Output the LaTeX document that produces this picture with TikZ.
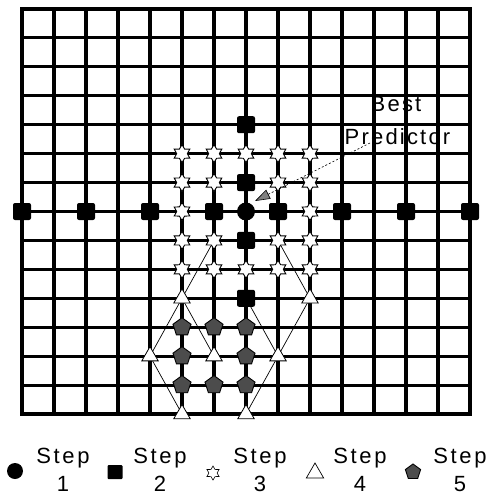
\documentclass[tikz,border=0pt]{standalone}
\usepackage{fontspec}
\setmainfont{Liberation Sans}
\newfontfamily\lblfont[LetterSpace=10]{Liberation Sans}
\newfontfamily\legfont[LetterSpace=12]{Liberation Sans}
\usetikzlibrary{shapes.geometric,arrows.meta}
\pgfdeclarelayer{gridlayer}
\pgfdeclarelayer{connlayer}
\pgfsetlayers{gridlayer,connlayer,main}
\tikzset{
  mcirc/.style={circle,fill=black,inner sep=0pt,minimum size=18pt},
  msq/.style={rectangle,rounded corners=2pt,fill=black,inner sep=0pt,minimum width=18pt,minimum height=17pt},
  mstar/.style={star,star points=6,star point ratio=1.7,draw=black,fill=white,line width=0.9pt,inner sep=0pt,minimum size=18pt},
  mtri/.style={regular polygon,regular polygon sides=3,draw=black,fill=white,line width=0.8pt,inner sep=0pt,minimum size=19pt},
  mpent/.style={regular polygon,regular polygon sides=5,draw=black,fill=black!70,line width=0.9pt,inner sep=0pt,minimum size=19pt},
  gridline/.style={line width=3.1pt,black,line cap=rect},
  conn/.style={line width=0.7pt,black},
  lbl/.style={font=\fontsize{22}{22}\lblfont,inner sep=0pt},
  leg/.style={font=\fontsize{22}{22}\legfont,inner sep=0pt},
}
\begin{document}
\begin{tikzpicture}[x=1pt,y=-1pt]
\useasboundingbox (0,0) rectangle (492,495);
\begin{scope}[shift={(22pt,-9pt)},x=32pt,y=-28.9286pt]
  \begin{pgfonlayer}{gridlayer}
    \foreach \i in {0,...,14} {
      \draw[gridline] (\i,0) -- (\i,14);
      \draw[gridline] (0,\i) -- (14,\i);
    }
  \end{pgfonlayer}
  % step 3 stars
  \foreach \i/\j in {5/5,6/5,7/5,8/5,9/5,5/6,6/6,8/6,9/6,5/7,9/7,5/8,6/8,8/8,9/8,5/9,6/9,7/9,8/9,9/9}
    \node[mstar] (st-\i-\j) at (\i,\j) {};
  % step 2 squares
  \foreach \i/\j in {0/7,2/7,4/7,6/7,8/7,10/7,12/7,14/7,7/4,7/6,7/8,7/10}
    \node[msq] (sq-\i-\j) at (\i,\j) {};
  % step 1 circle
  \node[mcirc] (c1) at (7,7) {};
  % step 5 pentagons
  \foreach \i/\j in {5/11,6/11,7/11,5/12,7/12,5/13,6/13,7/13}
    \node[mpent] (pe-\i-\j) at (\i,\j) {};
  % step 4 triangles
  \foreach \i/\j in {5/10,9/10,4/12,6/12,8/12,5/14,7/14}
    \node[mtri] (tr-\i-\j) at (\i,\j) {};
  \begin{pgfonlayer}{connlayer}
    \draw[conn] (st-6-8.center) -- (tr-5-10.center) -- (tr-4-12.center) -- (tr-5-14.center);
    \draw[conn] (tr-5-10.center) -- (tr-6-12.center);
    \draw[conn] (st-8-8.center) -- (tr-9-10.center) -- (tr-8-12.center) -- (tr-7-14.center);
    \draw[conn] (sq-7-10.center) -- (tr-8-12.center);
  \end{pgfonlayer}
\end{scope}
% Best predictor label
\node[lbl,anchor=base] (best) at (396,111) {Best};
\node[lbl,anchor=base] (pred) at (397.5,144) {Predictor};
\coordinate (bpA) at (370,143);
\coordinate (bpB) at (255,201);
\draw[line width=0.6pt,dash pattern=on 2pt off 2pt,-{Triangle[length=15pt,width=10pt,fill=black!50,line width=0.6pt]}] (bpA) -- (bpB);
% legend
\node[mcirc,minimum size=16pt] (lg1) at (15,471) {};
\node[msq,minimum width=15pt,minimum height=14pt,rounded corners=1pt] (lg2) at (115,472) {};
\node[mstar,minimum size=14pt,line width=0.6pt] (lg3) at (213,473) {};
\node[mtri,minimum size=20pt,line width=0.7pt] (lg4) at (315,473) {};
\node[mpent,minimum size=16pt] (lg5) at (413,472) {};
\foreach \k/\x in {1/63,2/160,3/260,4/360,5/460} {
  \node[leg,anchor=base] (ls\k) at (\x,463) {Step};
  \node[leg,anchor=base] (ln\k) at (\x,491.5) {\k};
}
\end{tikzpicture}
\end{document}
